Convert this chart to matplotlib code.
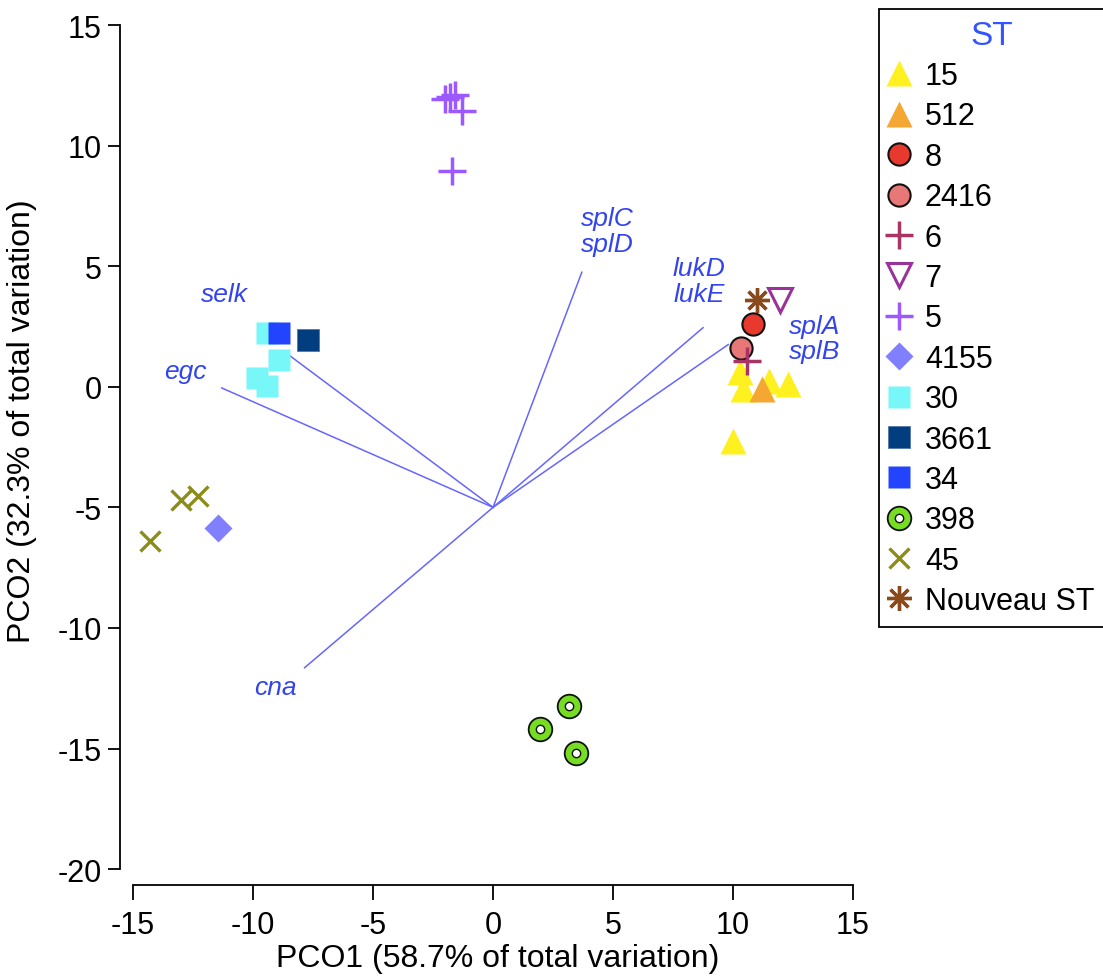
import matplotlib
matplotlib.use('Agg')
import matplotlib.pyplot as plt
from matplotlib.legend_handler import HandlerTuple

plt.rcParams['font.family'] = ['Liberation Sans', 'DejaVu Sans']
plt.rcParams['axes.unicode_minus'] = False

# sample scores per ST
st15_x = [10.3, 10.4, 11.5, 12.3, 10.0]
st15_y = [0.6, -0.1, 0.25, 0.1, -2.25]
st512_x, st512_y = [11.2], [-0.1]
st8_x, st8_y = [10.85], [2.6]
st2416_x, st2416_y = [10.35], [1.6]
st6_x, st6_y = [10.6], [1.05]
st7_x, st7_y = [11.95], [3.6]
st5_x = [-2.0, -1.8, -1.6, -1.3, -1.7]
st5_y = [11.95, 12.0, 12.1, 11.45, 8.95]
st4155_x, st4155_y = [-11.45], [-5.85]
st30_x = [-9.4, -8.9, -9.85, -9.4]
st30_y = [2.25, 1.1, 0.35, 0.05]
st3661_x, st3661_y = [-7.7], [1.95]
st34_x, st34_y = [-8.9], [2.25]
st398_x = [3.15, 1.95, 3.45]
st398_y = [-13.25, -14.2, -15.2]
st45_x = [-13.0, -12.3, -14.3]
st45_y = [-4.7, -4.55, -6.4]
new_x, new_y = [11.0], [3.6]

# gene vectors (from origin)
vec_origin = (0, -5)
vec_x = [-8.55, -11.3, -7.85, 3.7, 8.75, 9.8]
vec_y = [1.35, -0.05, -11.65, 4.75, 2.45, 1.75]
vec_labels = ['selk', 'egc', 'cna', 'splC\nsplD', 'lukD\nlukE', 'splA\nsplB']
lab_x = [-11.2, -12.8, -9.05, 4.75, 8.6, 13.4]
lab_y = [3.85, 0.65, -12.45, 6.45, 4.4, 2.0]

fig = plt.figure(figsize=(11.03, 9.79), dpi=100)
ax = fig.add_axes([0.1088, 0.0950, 0.6646, 0.8784])

line_c = '#6666ff'
for vx, vy in zip(vec_x, vec_y):
    ax.plot([vec_origin[0], vx], [vec_origin[1], vy], color=line_c, lw=1.1, zorder=1)
for t, lx, ly in zip(vec_labels, lab_x, lab_y):
    ax.text(lx, ly, t, color='#3344ee', fontsize=19, style='italic',
            ha='center', va='center', linespacing=1.1)

def pts(x, y, **kw):
    h, = ax.plot(x, y, linestyle='none', clip_on=False, **kw)
    return h

handles = []
handles.append(pts(st15_x, st15_y, marker='^', ms=19, color='#fff020', mec='none'))
handles.append(pts(st512_x, st512_y, marker='^', ms=19, color='#f5a733', mec='none'))
handles.append(pts(st8_x, st8_y, marker='o', ms=16, color='#e8392e', mec='#111111', mew=1.5))
handles.append(pts(st2416_x, st2416_y, marker='o', ms=16, color='#e87878', mec='#111111', mew=1.5))
handles.append(pts(st6_x, st6_y, marker='+', ms=20, color='#aa3366', mew=2.5))
handles.append(pts(st7_x, st7_y, marker='v', ms=17, mfc='none', mec='#993399', mew=2.2))
handles.append(pts(st5_x, st5_y, marker='+', ms=20, color='#9b59ff', mew=2.5))
handles.append(pts(st4155_x, st4155_y, marker='D', ms=14, color='#8080ff', mec='none'))
handles.append(pts(st30_x, st30_y, marker='s', ms=16, color='#77f7f7', mec='none'))
handles.append(pts(st3661_x, st3661_y, marker='s', ms=16, color='#013d7f', mec='#5577aa', mew=0.6))
handles.append(pts(st34_x, st34_y, marker='s', ms=16, color='#2244ff', mec='none'))
outer = pts(st398_x, st398_y, marker='o', ms=17, color='#77dd22', mec='#111111', mew=1.3)
inner = pts(st398_x, st398_y, marker='o', ms=6, color='white', mec='#111111', mew=1.0)
handles.append((outer, inner))
handles.append(pts(st45_x, st45_y, marker='x', ms=15, color='#8c8c1a', mew=2.4))
handles.append(pts(new_x, new_y, marker=(8, 2, 0), ms=18, color='#8b4a1a', mew=2.4))

labels = ['15', '512', '8', '2416', '6', '7', '5', '4155', '30', '3661', '34',
          '398', '45', 'Nouveau ST']

ax.set_xlim(-15.54, 15)
ax.set_ylim(-20.66, 15)
for s in ['top', 'right']:
    ax.spines[s].set_visible(False)
ax.spines['left'].set_bounds(-20, 15)
ax.spines['bottom'].set_bounds(-15, 15)
ax.spines['left'].set_linewidth(1.3)
ax.spines['bottom'].set_linewidth(1.3)
ax.set_xticks(range(-15, 16, 5))
ax.set_yticks(range(-20, 16, 5))
ax.tick_params(axis='y', direction='out', length=9, width=1.3, pad=4, labelsize=22)
ax.tick_params(axis='x', direction='out', length=11, width=1.3, pad=7, labelsize=22)

ax.set_xlabel('PCO1 (58.7% of total variation)', fontsize=23)
ax.set_ylabel('PCO2 (32.3% of total variation)', fontsize=23)
ax.xaxis.set_label_coords(0.515, -0.068)
ax.yaxis.set_label_coords(-0.113, 0.54)

leg = fig.legend(handles, labels, loc='upper left', bbox_to_anchor=(879 / 1103, 1 - 10 / 979),
                 title='ST', fontsize=22, title_fontsize=24, frameon=True, fancybox=False,
                 edgecolor='black', framealpha=1, borderpad=0.35, handlelength=0.6,
                 handletextpad=0.55, labelspacing=0.34, borderaxespad=0,
                 handler_map={tuple: HandlerTuple(ndivide=1)})
leg.get_title().set_color('#3355ff')
leg.get_frame().set_linewidth(1.3)

fig.savefig('out.png', dpi=100)
